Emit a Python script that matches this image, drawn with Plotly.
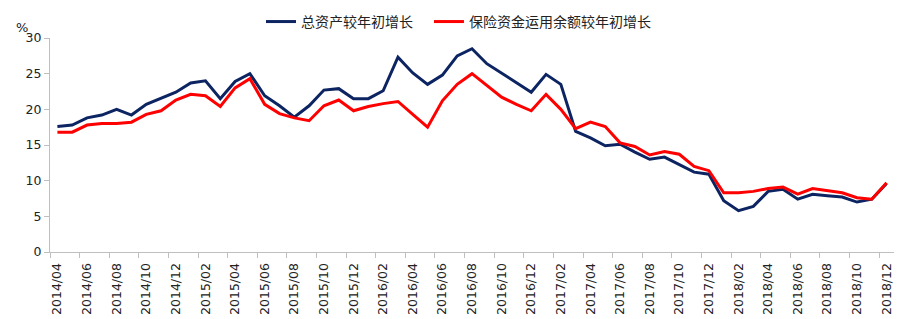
import plotly.graph_objects as go

months = [
    "2014/04", "2014/05", "2014/06", "2014/07", "2014/08", "2014/09", "2014/10", "2014/11", "2014/12",
    "2015/01", "2015/02", "2015/03", "2015/04", "2015/05", "2015/06", "2015/07", "2015/08", "2015/09",
    "2015/10", "2015/11", "2015/12", "2016/01", "2016/02", "2016/03", "2016/04", "2016/05", "2016/06",
    "2016/07", "2016/08", "2016/09", "2016/10", "2016/11", "2016/12", "2017/01", "2017/02", "2017/03",
    "2017/04", "2017/05", "2017/06", "2017/07", "2017/08", "2017/09", "2017/10", "2017/11", "2017/12",
    "2018/01", "2018/02", "2018/03", "2018/04", "2018/05", "2018/06", "2018/07", "2018/08", "2018/09",
    "2018/10", "2018/11", "2018/12",
]

total_assets_growth = [
    17.6, 17.8, 18.8, 19.2, 20.0, 19.2, 20.7, 21.5, 22.4,
    23.7, 24.0, 21.5, 23.9, 25.0, 21.9, 20.5, 18.9, 20.5,
    22.7, 22.9, 21.5, 21.5, 22.6, 27.3, 25.1, 23.5, 24.8,
    27.5, 28.5, 26.4, 25.1, 23.8, 22.4, 24.9, 23.5, 16.9,
    16.0, 14.9, 15.1, 14.0, 13.0, 13.3, 12.2, 11.2, 10.9,
    7.2, 5.8, 6.4, 8.5, 8.8, 7.4, 8.1, 7.9, 7.7,
    7.0, 7.4, 9.6,
]

fund_balance_growth = [
    16.8, 16.8, 17.8, 18.0, 18.0, 18.2, 19.3, 19.8, 21.3,
    22.1, 21.9, 20.4, 23.0, 24.3, 20.7, 19.4, 18.8, 18.4,
    20.5, 21.3, 19.8, 20.4, 20.8, 21.1, 19.3, 17.5, 21.2,
    23.5, 25.0, 23.4, 21.7, 20.7, 19.8, 22.1, 20.0, 17.3,
    18.2, 17.6, 15.3, 14.8, 13.6, 14.1, 13.7, 12.0, 11.4,
    8.3, 8.3, 8.5, 8.9, 9.1, 8.1, 8.9, 8.6, 8.3,
    7.6, 7.4, 9.7,
]

series_names = ["总资产较年初增长", "保险资金运用余额较年初增长"]
series_colors = ["#0c2461", "#ff0000"]
y_ticks = [0, 5, 10, 15, 20, 25, 30]

idx = list(range(len(months)))
label_idx = idx[::2]
label_text = [months[i] for i in label_idx]
boundary_ticks = [i - 0.5 for i in label_idx]

fig = go.Figure()
for name, vals, col, lg in zip(series_names, [total_assets_growth, fund_balance_growth],
                               series_colors, ["legend", "legend2"]):
    fig.add_trace(go.Scatter(
        x=idx, y=vals, name=name, mode="lines",
        line=dict(color=col, width=3), legend=lg,
    ))

axis_gray = "#bfbfbf"
tick_font = dict(family="DejaVu Sans", size=12.5, color="#222222")
legend_common = dict(
    orientation="h", xanchor="left", y=1.075, yanchor="middle",
    font=dict(family="Noto Sans CJK SC", size=14, color="#222222"),
    bgcolor="rgba(0,0,0,0)", itemwidth=30,
)

fig.update_layout(
    width=911, height=319,
    margin=dict(l=50, r=17, t=38, b=67, autoexpand=False),
    paper_bgcolor="white", plot_bgcolor="white",
    showlegend=True,
    legend=dict(x=0.2500, **legend_common),
    legend2=dict(x=0.4490, **legend_common),
    xaxis=dict(
        range=[-0.5, len(months) - 0.5],
        tickmode="array", tickvals=label_idx, ticktext=label_text,
        tickangle=-90, ticks="outside", ticklen=5, tickcolor="rgba(0,0,0,0)",
        tickfont=tick_font,
        showline=True, linecolor=axis_gray, linewidth=1,
        showgrid=False, zeroline=False,
        minor=dict(tickmode="array", tickvals=boundary_ticks, ticks="outside",
                   ticklen=5, tickcolor=axis_gray, tickwidth=1, showgrid=False),
    ),
    yaxis=dict(
        range=[0, 30], tickmode="array", tickvals=y_ticks,
        ticks="outside", ticklen=5, tickcolor=axis_gray,
        tickfont=tick_font,
        showline=True, linecolor=axis_gray, linewidth=1,
        showgrid=False, zeroline=False,
    ),
    annotations=[dict(
        text="%", xref="paper", yref="paper", x=-0.033, y=1.047,
        xanchor="center", yanchor="middle", showarrow=False,
        font=dict(family="DejaVu Sans", size=13, color="#222222"),
    )],
)

fig.write_html("out.html")
